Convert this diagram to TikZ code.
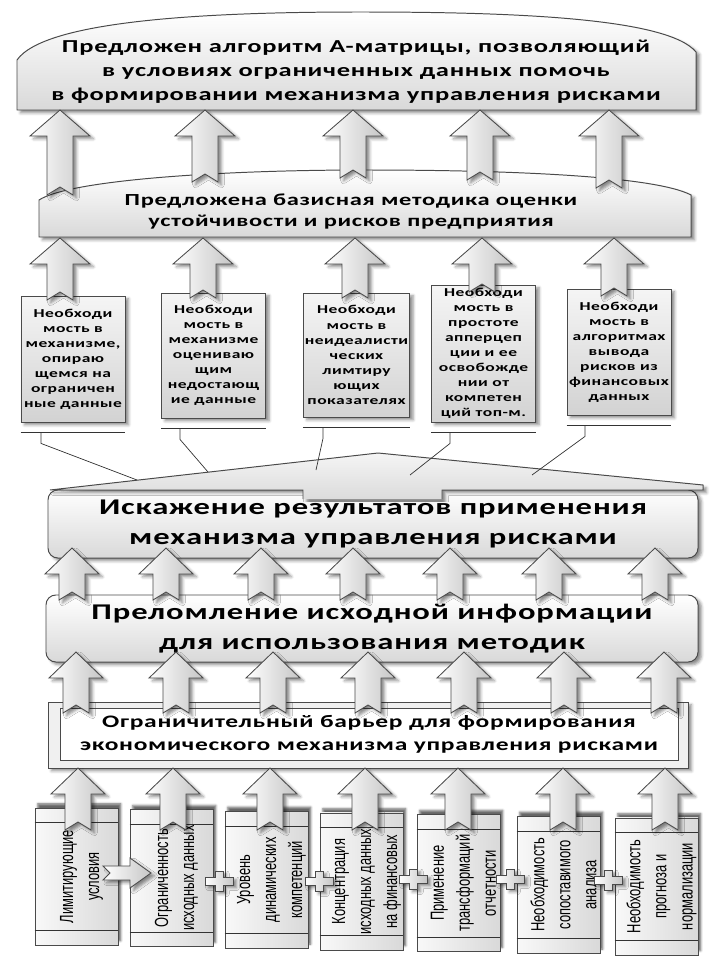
\documentclass[tikz,border=0pt]{standalone}
\usepackage{fontspec}
\setmainfont{Carlito}
\newfontfamily\bxf[FakeStretch=1.45,LetterSpace=4]{Carlito}
\newfontfamily\vtf[FakeStretch=0.68]{Liberation Sans}
\usetikzlibrary{calc,shadows.blur}
\definecolor{edgec}{HTML}{4A4A4A}
\tikzset{
  shd/.style={blur shadow={shadow xshift=2.5pt,shadow yshift=-2pt,shadow blur radius=2pt,shadow opacity=45}},
  barr/.style={draw=edgec,line width=0.6pt,left color=white,right color=gray!45,shd},
  bigbox/.style={draw=edgec,line width=0.7pt,top color=white,bottom color=gray!30,shd},
  needbox/.style={draw=edgec,line width=0.6pt,top color=gray!8,bottom color=gray!35,shd,
    minimum width=26mm,align=center,inner sep=1pt,font=\bxf\bfseries\fontsize{8.6}{10.7}\selectfont},
  factbox/.style={draw=edgec,line width=0.5pt,left color=gray!5,right color=gray!30,
    blur shadow={shadow xshift=2pt,shadow yshift=3pt,shadow blur radius=1.5pt,shadow opacity=60},
    minimum width=20.75mm,minimum height=34.25mm,inner sep=0pt},
  facttxt/.style={rotate=90,align=center,font=\vtf\fontsize{13.5}{18.5}\selectfont},
  ttl/.style={align=center,font=\bxf\bfseries\fontsize{13}{17}\selectfont},
  bigtxt/.style={align=center,font=\bxf\bfseries\fontsize{16}{21}\selectfont},
  lnk/.style={draw=black!80,line width=0.5pt},
  pics/uparr/.style 2 args={code={
    \draw[barr] (0,0) -- (#1,26) -- (13,26) -- (13,#2) -- (0,#2-8) -- (-13,#2) -- (-13,26) -- (-#1,26) -- cycle;}},
  pics/plussign/.style={code={
    \draw[barr] (-4,-10) -- (4,-10) -- (4,-4) -- (14,-4) -- (14,4) -- (4,4) -- (4,10) -- (-4,10)
      -- (-4,4) -- (-14,4) -- (-14,-4) -- (-4,-4) -- cycle;}}
}
\begin{document}
\begin{tikzpicture}[x=0.25mm,y=-0.25mm]
\useasboundingbox (0,0) rectangle (720,960);

% upper results
\draw[bigbox] (17,110) -- (17,60) .. controls (45,20) and (210,12) .. (360,12)
  .. controls (515,12) and (668,18) .. (696,52) -- (696,110) -- cycle;
\node[ttl] (goal) at (356,72) {Предложен алгоритм А-матрицы, позволяющий\\в условиях ограниченных данных помочь\\в формировании механизма управления рисками};
\draw[bigbox] (39,237) -- (39,200) .. controls (70,180) and (220,170) .. (365,170)
  .. controls (510,170) and (655,176) .. (691,195) -- (691,237) -- cycle;
\node[ttl,font=\bxf\bfseries\fontsize{12}{15}\selectfont] (base) at (351,212) {Предложена базисная методика оценки\\устойчивости и рисков предприятия};

% needs
\node[needbox,minimum height=31.5mm] (n1) at (73,359) {Необходи\\мость в\\механизме,\\опираю\\щемся на\\ограничен\\ные данные};
\node[needbox,minimum height=31.25mm] (n2) at (213.5,355.5) {Необходи\\мость в\\механизме\\оцениваю\\щим\\недостающ\\ие данные};
\node[needbox,minimum height=31mm] (n3) at (356.5,355) {Необходи\\мость в\\неидеалисти\\ческих\\лимтиру\\ющих\\показателях};
\node[needbox,minimum height=34.25mm] (n4) at (483.5,353.5) {Необходи\\мость в\\простоте\\апперцеп\\ции и ее\\освобожде\\нии от\\компетен\\ций топ-м.};
\node[needbox,minimum height=31.5mm] (n5) at (619,352) {Необходи\\мость в\\алгоритмах\\вывода\\рисков из\\финансовых\\данных};

% distortion with roof
\node[bigbox,rounded corners=7pt,minimum width=162.5mm,minimum height=17mm,inner sep=0pt] (dist) at (373,524) {};
\draw[draw=edgec,line width=0.7pt,top color=gray!8,bottom color=gray!28,shd]
  (303,499) -- (303,490) -- (50,490) -- (378,453) -- (703,485) -- (703,490) -- (442,490) -- (442,499);
\node[bigtxt] (distt) at (dist.center) {Искажение результатов применения\\механизма управления рисками};
\foreach \n/\bx/\rx/\ry in {n1/41/137/480,n2/180/208/472,n3/323/316/470,n4/450/410/475,n5/585/532/475}{
  \draw[lnk] ($(\n.south west)+(0,10)$) coordinate (\n-l) -- ($(\n.south east)+(0,10)$);
  \draw[lnk] (\bx,0 |- \n-l) -- ++(0,11) -- (\rx,\ry);
}

% refraction
\node[bigbox,rounded corners=7pt,minimum width=163mm,minimum height=16.75mm,bigtxt] (refr) at (372,628.5) {Преломление исходной информации\\для использования методик};

% barrier
\node[draw=edgec,line width=0.6pt,fill=gray!12,shd,minimum width=160mm,minimum height=16.5mm] (bar) at (368,735) {};
\node[draw=edgec,line width=0.6pt,fill=white,minimum width=154.5mm,minimum height=13mm,ttl,font=\bxf\bfseries\fontsize{12.5}{16.4}\selectfont] (bart) at (369,734) {Ограничительный барьер для формирования\\экономического механизма управления рисками};

% factors
\foreach \i/\lx/\txt [count=\k] in {0/35/{Лимитирующие\\условия},1/130/{Ограниченность\\исходных данных},
  2/225/{Уровень\\динамических\\компетенций},3/320/{Концентрация\\исходных данных\\на финансовых},
  4/417/{Применение\\трансформаций\\отчетности},5/517/{Необходимость\\сопоставимого\\анализа},
  6/615/{Необходимость\\прогноза и\\нормализации}}{
  \node[factbox] (f\k) at (\lx+41.5,876.5+1.65*\i) {};
  \draw[lnk,line width=0.4pt] ($(f\k.north west)+(0,15)$) -- ($(f\k.north east)+(0,15)$);
  \draw[lnk,line width=0.4pt] ($(f\k.south west)+(0,-15)$) -- ($(f\k.south east)+(0,-15)$);
  \node[facttxt] (t\k) at ($(f\k.center)+(5,0)$) {\txt};
}

% block arrows
\foreach \ax/\len in {60/85,205/72,353/68,480/70,609/78} \pic at (\ax,110) {uparr={30}{\len}};
\foreach \ax/\len in {60/62,203/60,355/60,482/54,614/58} \pic at (\ax,238) {uparr={30}{\len}};
\foreach \ax in {72,166,261,353,450,549,655} \pic at (\ax,548) {uparr={27}{52}};
\foreach \ax in {76,176,273,368,464,564,664} \pic at (\ax,652) {uparr={27}{61}};
\foreach \ax in {78,173,270,365,458,563,665} \pic at (\ax,768) {uparr={27}{62}};

% links between factors
\draw[barr] (103,866) -- (130,866) -- (130,858) -- (151,873) -- (130,888) -- (130,880) -- (103,880) -- (110,873) -- cycle;
\foreach \px/\py in {219/881,319/881,413/879,510/879,608/880} \pic at (\px,\py) {plussign};
\end{tikzpicture}
\end{document}
